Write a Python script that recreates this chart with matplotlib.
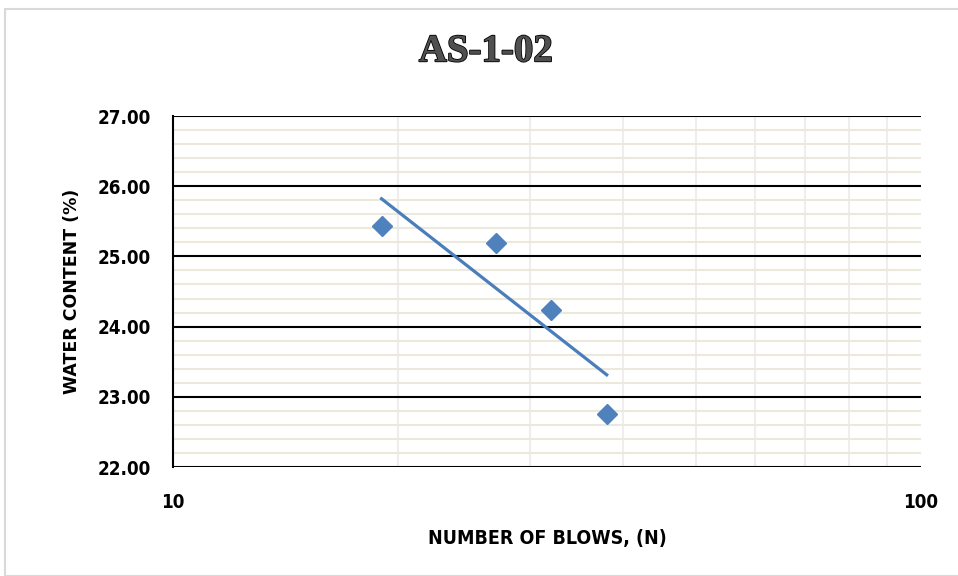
import numpy as np
import matplotlib
matplotlib.use('Agg')
import matplotlib.pyplot as plt
import matplotlib.patheffects as pe
from matplotlib.ticker import FixedLocator, NullFormatter, MultipleLocator

# Valeurs
blows = [19, 27, 32, 38]
water = [25.43, 25.19, 24.24, 22.76]

title = "AS-1-02"
xlabel = "NUMBER OF BLOWS, (N)"
ylabel = "WATER CONTENT (%)"

# Tendance logarithmique (comme Excel)
b, a = np.polyfit(np.log10(blows), water, 1)
xt = np.array([min(blows), max(blows)])
yt = a + b * np.log10(xt)

fig = plt.figure(figsize=(9.58, 5.76), dpi=100)
ax = fig.add_axes([0.1806, 0.1892, 0.9614 - 0.1806, 0.7986 - 0.1892])

# cadre de la zone graphique
fig.patches.append(plt.Rectangle((5 / 958, 0), 1, 1 - 9 / 576, transform=fig.transFigure,
                                 fill=False, edgecolor='#d9d9d9', lw=1.5))

ax.set_xscale('log')
ax.set_xlim(10, 100)
ax.set_ylim(22, 27)

ax.xaxis.set_major_locator(FixedLocator([10, 100]))
ax.xaxis.set_major_formatter(matplotlib.ticker.FixedFormatter(['10', '100']))
ax.xaxis.set_minor_locator(FixedLocator(np.arange(20, 100, 10)))
ax.xaxis.set_minor_formatter(NullFormatter())
ax.yaxis.set_major_locator(MultipleLocator(1))
ax.yaxis.set_minor_locator(MultipleLocator(0.2))
ax.yaxis.set_major_formatter(matplotlib.ticker.FormatStrFormatter('%.2f'))

# grilles
ax.grid(which='minor', axis='x', color='#eeeeee', lw=1.5)
ax.grid(which='minor', axis='y', color='#ece8dc', lw=1.5)
ax.grid(which='major', axis='y', color='black', lw=1.5)
ax.set_axisbelow(True)

ax.tick_params(which='both', length=0)
ax.tick_params(axis='y', pad=16)
ax.tick_params(axis='x', pad=19)
for lab in ax.get_xticklabels() + ax.get_yticklabels():
    lab.set_fontfamily('DejaVu Sans')
    lab.set_fontstretch('condensed')
    lab.set_fontweight('bold')
    lab.set_fontsize(13.5)

for s in ['top', 'right', 'bottom']:
    ax.spines[s].set_visible(False)
ax.spines['left'].set_color('black')
ax.spines['left'].set_linewidth(1.5)

ax.plot(xt, yt, color='#4a7ebb', lw=2.3, zorder=3)
ax.plot(blows, water, 'D', color='#4f81bd', markersize=10, zorder=4)

ax.set_xlabel(xlabel, fontfamily='DejaVu Sans', fontstretch='condensed', fontweight='bold',
              fontsize=14, labelpad=12)
ax.set_ylabel(ylabel, fontfamily='DejaVu Sans', fontweight='bold', fontsize=12.5, labelpad=12)

fig.text(0.507, 0.91, title, ha='center', va='center', fontfamily=['Liberation Serif', 'DejaVu Serif'],
         fontweight='bold', fontsize=28, color='#505050',
         path_effects=[pe.withStroke(linewidth=1.2, foreground='black')])

fig.savefig('out.png', dpi=100)
